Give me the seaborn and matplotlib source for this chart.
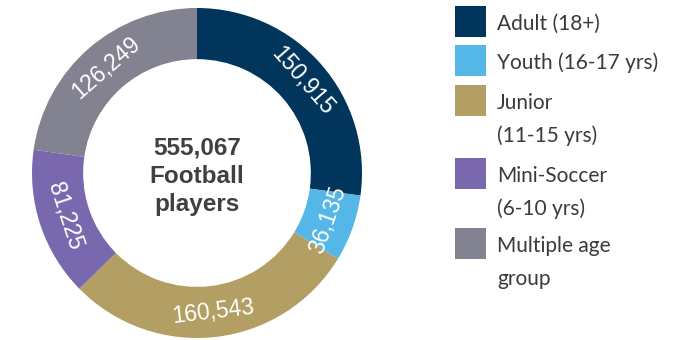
import matplotlib
matplotlib.use("Agg")
import matplotlib.pyplot as plt
from matplotlib.patches import Rectangle
import numpy as np
import seaborn as sns

# Player counts by age group
groups = [["Adult (18+)"], ["Youth (16-17 yrs)"], ["Junior", "(11-15 yrs)"],
          ["Mini-Soccer", "(6-10 yrs)"], ["Multiple age", "group"]]
players = [150915, 36135, 160543, 81225, 126249]
value_labels = ["150,915", "36,135", "160,543", "81,225", "126,249"]
colors = ["#02355b", "#55b7e7", "#b39e63", "#7a68ae", "#828290"]
total_label = "555,067\nFootball\nplayers"

sns.set_theme(style="white")
plt.rcParams["font.family"] = ["Liberation Sans", "DejaVu Sans"]

W, H = 687, 340
fig = plt.figure(figsize=(W / 100, H / 100), dpi=100)

# Donut ring
cx, cy, r = 197, 173, 165
ax = fig.add_axes([(cx - r) / W, (H - cy - r) / H, 2 * r / W, 2 * r / H])
wedges, _ = ax.pie(players, colors=colors, startangle=90, counterclock=False,
                   radius=1.0, wedgeprops=dict(width=0.31, linewidth=0))
ax.set_xlim(-1, 1)
ax.set_ylim(-1, 1)
ax.set_aspect("equal")
ax.axis("off")

# Values written along the ring, kept readable
label_r = 0.845
for w, lab in zip(wedges, value_labels):
    mid = 0.5 * (w.theta1 + w.theta2)
    x = label_r * np.cos(np.radians(mid))
    y = label_r * np.sin(np.radians(mid))
    rot = (mid - 90 + 180) % 360 - 180
    if rot > 90:
        rot -= 180
    elif rot < -90:
        rot += 180
    ax.text(x, y, lab, ha="center", va="center", rotation=rot,
            rotation_mode="anchor", color="white", fontsize=16.5)

ax.text(0, -0.02, total_label, ha="center", va="center", fontsize=17.5,
        fontweight="bold", color="#404040", linespacing=1.3)

# Legend drawn as swatches with labels
lax = fig.add_axes([0, 0, 1, 1])
lax.set_xlim(0, W)
lax.set_ylim(H, 0)
lax.axis("off")
sq_top = [6, 45, 85, 158, 228]
for top, col, lines in zip(sq_top, colors, groups):
    lax.add_patch(Rectangle((455, top), 31, 31, facecolor=col, edgecolor="none"))
    for i, line in enumerate(lines):
        lax.text(497, top + 24 + 33 * i, line, ha="left", va="baseline",
                 fontsize=15, family=["Lato", "DejaVu Sans"], color="#3a3a3a")

fig.savefig("out.png", dpi=100)
